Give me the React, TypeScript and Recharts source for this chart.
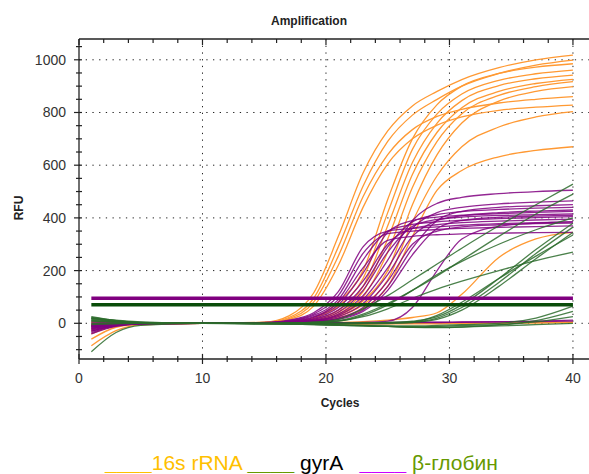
import React from "react";
import { LineChart, Line, CartesianGrid, XAxis, YAxis } from "recharts";

const CYCLES = [1, 3, 5, 10, 15, 17, 19, 21, 23, 25, 27, 29, 31, 34, 37, 40];

// 16s rRNA wells (orange)
const ORANGE_16S: number[][] = [
  [-8, -3, 0, 0, 4, 28, 115, 330, 570, 730, 825, 880, 925, 970, 1000, 1018],
  [-20, -6, -2, 0, 3, 22, 95, 290, 520, 690, 790, 850, 900, 948, 980, 999],
  [5, 2, 0, 0, 2, 18, 80, 255, 480, 640, 735, 785, 812, 836, 850, 860],
  [-40, -10, -3, 0, 2, 15, 65, 220, 440, 605, 700, 752, 783, 808, 820, 828],
  [2, 1, 0, 0, 1, 5, 22, 80, 200, 470, 700, 830, 900, 948, 972, 985],
  [-10, -4, 0, 0, 1, 5, 20, 65, 170, 420, 660, 795, 870, 922, 947, 961],
  [-3, -1, 0, 0, 1, 4, 14, 50, 140, 370, 610, 760, 845, 902, 928, 942],
  [-60, -15, -3, 0, 1, 4, 12, 42, 120, 320, 565, 725, 818, 880, 910, 926],
  [-5, -2, 0, 0, 0, 3, 10, 35, 100, 270, 515, 690, 795, 865, 898, 917],
  [-15, -5, -1, 0, 0, 3, 9, 30, 85, 200, 450, 640, 760, 843, 880, 898],
  [-25, -8, -2, 0, 0, 2, 8, 25, 70, 165, 385, 560, 670, 745, 783, 803],
  [-12, -4, 0, 0, 1, 3, 6, 20, 55, 140, 330, 505, 580, 632, 656, 670],
  [-5, -2, 0, 0, 0, 0, 1, 3, 6, 12, 22, 40, 110, 250, 320, 345],
  [-30, -8, -2, 0, 0, -2, -3, -3, -3, -2, -2, -2, -1, 0, 2, 4],
  [-85, -28, -6, 0, 0, 0, -1, -2, -2, -1, 0, 0, 1, 1, 2, 3],
];

// β-globin wells (purple)
const PURPLE_BGLOBIN: number[][] = [
  [-15, -5, 0, 0, 3, 12, 40, 120, 290, 350, 360, 366, 372, 378, 382, 385],
  [-25, -8, -1, 0, 2, 10, 35, 105, 265, 340, 350, 356, 360, 364, 367, 370],
  [-5, -2, 0, 0, 2, 8, 30, 90, 240, 350, 375, 385, 391, 397, 401, 405],
  [-35, -10, -2, 0, 2, 7, 25, 80, 210, 315, 330, 336, 339, 342, 344, 345],
  [-10, -3, 0, 0, 1, 6, 22, 70, 190, 345, 390, 403, 410, 416, 421, 425],
  [-20, -6, -1, 0, 1, 5, 18, 60, 160, 300, 360, 374, 382, 388, 392, 395],
  [-30, -9, -2, 0, 1, 4, 15, 50, 140, 290, 385, 412, 424, 432, 437, 440],
  [0, -1, 0, 0, 1, 4, 12, 42, 125, 270, 368, 394, 403, 409, 412, 415],
  [-12, -4, -1, 0, 1, 3, 10, 35, 105, 240, 390, 455, 478, 492, 500, 505],
  [-40, -12, -3, 0, 1, 3, 9, 30, 90, 210, 360, 420, 440, 453, 460, 465],
  [-18, -5, -1, 0, 0, 2, 8, 25, 75, 185, 330, 390, 408, 420, 426, 430],
  [-8, -3, 0, 0, 0, 2, 7, 20, 60, 160, 300, 350, 366, 374, 378, 380],
  [-22, -7, -1, 0, 0, 2, 6, 18, 50, 140, 285, 390, 425, 440, 446, 450],
  [-14, -4, 0, 0, 0, 1, 5, 15, 45, 125, 260, 360, 390, 402, 407, 410],
  [-10, -3, 0, 0, 0, 0, 1, 2, 3, 8, 60, 200, 320, 368, 380, 385],
  [-30, -8, -2, 0, 0, 0, 1, 2, 2, 3, 4, 4, 5, 6, 8, 12],
  [5, 3, 1, 0, 0, 0, 0, 1, 2, 2, 3, 3, 4, 5, 6, 8],
];

// gyrA wells (green)
const GREEN_GYRA: number[][] = [
  [25, 10, 3, 0, 0, 1, 4, 15, 55, 105, 165, 225, 285, 370, 450, 528],
  [10, 5, 2, 0, 0, 1, 3, 10, 35, 75, 125, 180, 240, 330, 415, 490],
  [-5, -2, 0, 0, 0, 1, 3, 8, 30, 70, 125, 185, 235, 300, 355, 400],
  [15, 6, 2, 0, 0, 1, 2, 8, 25, 55, 95, 130, 160, 200, 238, 270],
  [-108, -35, -8, 0, 0, 0, 0, 0, 1, 2, 8, 25, 70, 170, 280, 380],
  [20, 8, 2, 0, 0, 0, 0, 0, 1, 2, 5, 20, 60, 155, 265, 365],
  [0, 0, 0, 0, -1, -1, -2, -2, -2, -1, 3, 15, 50, 140, 245, 345],
  [12, 5, 1, 0, 0, 0, 0, 1, 2, 3, 5, 30, 80, 170, 255, 335],
  [18, 8, 2, 0, -2, -3, -4, -6, -8, -10, -10, -8, -5, 0, 20, 65],
  [8, 3, 0, 0, -2, -3, -5, -7, -10, -12, -14, -12, -8, -5, 10, 45],
  [22, 10, 3, 0, -1, -2, -4, -6, -9, -12, -15, -16, -14, -6, 5, 25],
  [20, 12, 5, 0, -2, -3, -5, -8, -10, -12, -14, -15, -14, -10, -5, 0],
];

const THRESHOLD_BGLOBIN = 95;
const THRESHOLD_GYRA = 70;

const X_LABELS = [0, 10, 20, 30, 40];
const Y_LABELS = [0, 200, 400, 600, 800, 1000];
const X_MINOR_STEP = 2;
const Y_MINOR_STEP = 50;

const X_TICKS = Array.from({ length: 21 }, (_, i) => i * X_MINOR_STEP);
const Y_TICKS = Array.from({ length: 24 }, (_, i) => -100 + i * Y_MINOR_STEP);

const ORANGE = "#FF9933";
const PURPLE = "#800080";
const GREEN = "#2B6B2B";
const FONT = "'Liberation Sans', Arial, sans-serif";

const rows = CYCLES.map((cycle, i) => {
  const row: Record<string, number> = {
    cycle,
    thrP: THRESHOLD_BGLOBIN,
    thrG: THRESHOLD_GYRA,
  };
  ORANGE_16S.forEach((s, j) => (row[`o${j}`] = s[i]));
  PURPLE_BGLOBIN.forEach((s, j) => (row[`p${j}`] = s[i]));
  GREEN_GYRA.forEach((s, j) => (row[`g${j}`] = s[i]));
  return row;
});

const BottomTick = (props: any) => {
  const { x, y, payload } = props;
  const major = X_LABELS.includes(payload.value);
  const h = major ? 5 : 3;
  return (
    <g>
      <line x1={x} x2={x} y1={y - h} y2={y + h} stroke="#222" strokeWidth={1.2} />
      {major && (
        <text x={x} y={y + 24} textAnchor="middle" fontSize={14} fill="#333" fontFamily={FONT}>
          {payload.value}
        </text>
      )}
    </g>
  );
};

const TopTick = (props: any) => {
  const { x, y, payload } = props;
  const major = X_LABELS.includes(payload.value);
  return <line x1={x} x2={x} y1={y} y2={y + (major ? 6 : 4)} stroke="#222" strokeWidth={1.2} />;
};

const LeftTick = (props: any) => {
  const { x, y, payload } = props;
  const major = Y_LABELS.includes(payload.value);
  return (
    <g>
      <line x1={x - (major ? 5 : 3)} x2={x + 3} y1={y} y2={y} stroke="#222" strokeWidth={1.2} />
      {major && (
        <text x={x - 13} y={y + 5} textAnchor="end" fontSize={14} fill="#333" fontFamily={FONT}>
          {payload.value}
        </text>
      )}
    </g>
  );
};

export default function App() {
  return (
    <div
      style={{
        position: "absolute",
        left: 0,
        top: 0,
        width: 589,
        height: 474,
        overflow: "hidden",
        background: "#fff",
        fontFamily: FONT,
      }}
    >
      <LineChart
        width={589}
        height={474}
        data={rows}
        margin={{ top: 38, right: 0, bottom: 114, left: 78 }}
      >
        <CartesianGrid
          horizontalValues={Y_LABELS}
          verticalValues={[10, 20, 30, 40]}
          stroke="#222"
          strokeDasharray="1.3 5.4"
        />
        <XAxis
          type="number"
          dataKey="cycle"
          domain={[0, 41.3]}
          ticks={X_TICKS}
          interval={0}
          height={1}
          tickSize={0}
          tickMargin={0}
          tickLine={false}
          tick={BottomTick}
          axisLine={{ stroke: "#222", strokeWidth: 1.3 }}
          allowDataOverflow
        />
        <XAxis
          xAxisId="top"
          orientation="top"
          type="number"
          dataKey="cycle"
          domain={[0, 41.3]}
          ticks={X_TICKS}
          interval={0}
          height={1}
          tickSize={0}
          tickMargin={0}
          tickLine={false}
          tick={TopTick}
          axisLine={{ stroke: "#222", strokeWidth: 1.3 }}
          allowDataOverflow
        />
        <YAxis
          type="number"
          domain={[-135.5, 1078.9]}
          ticks={Y_TICKS}
          interval={0}
          width={1}
          tickSize={0}
          tickMargin={0}
          tickLine={false}
          tick={LeftTick}
          axisLine={{ stroke: "#222", strokeWidth: 1.3 }}
          allowDataOverflow
        />
        {ORANGE_16S.map((_, j) => (
          <Line key={`o${j}`} dataKey={`o${j}`} type="monotone" stroke={ORANGE} strokeWidth={1.3} dot={false} activeDot={false} isAnimationActive={false} />
        ))}
        {PURPLE_BGLOBIN.map((_, j) => (
          <Line key={`p${j}`} dataKey={`p${j}`} type="monotone" stroke={PURPLE} strokeWidth={1.3} strokeOpacity={0.85} dot={false} activeDot={false} isAnimationActive={false} />
        ))}
        {GREEN_GYRA.map((_, j) => (
          <Line key={`g${j}`} dataKey={`g${j}`} type="monotone" stroke={GREEN} strokeWidth={1.3} strokeOpacity={0.85} dot={false} activeDot={false} isAnimationActive={false} />
        ))}
        <Line dataKey="thrP" stroke={PURPLE} strokeWidth={3.5} dot={false} activeDot={false} isAnimationActive={false} />
        <Line dataKey="thrG" stroke="#0A4D0A" strokeWidth={3.5} dot={false} activeDot={false} isAnimationActive={false} />
      </LineChart>

      <svg width={589} height={474} style={{ position: "absolute", left: 0, top: 0, pointerEvents: "none" }}>
        <text x={309} y={25} textAnchor="middle" fontSize={12} fontWeight="bold" fill="#222" fontFamily={FONT}>
          Amplification
        </text>
        <text x={23} y={208} textAnchor="middle" fontSize={12} fontWeight="bold" fill="#222" fontFamily={FONT} transform="rotate(-90 23 208)">
          RFU
        </text>
        <text x={340} y={407} textAnchor="middle" fontSize={12} fontWeight="bold" fill="#222" fontFamily={FONT}>
          Cycles
        </text>
      </svg>

      <div
        style={{
          position: "absolute",
          left: 105,
          top: 452,
          fontSize: 21,
          lineHeight: "21px",
          whiteSpace: "pre",
          fontFamily: FONT,
        }}
      >
        <span style={{ color: "#FFC000", fontWeight: "bold" }}>____</span>
        <span style={{ color: "#FFC000" }}>16s rRNA </span>
        <span style={{ color: "#669900", fontWeight: "bold" }}>____</span>
        <span style={{ color: "#000" }}> gyrA   </span>
        <span style={{ color: "#CC00FF", fontWeight: "bold" }}>____</span>
        <span style={{ color: "#669900" }}> β-глобин</span>
      </div>
    </div>
  );
}
